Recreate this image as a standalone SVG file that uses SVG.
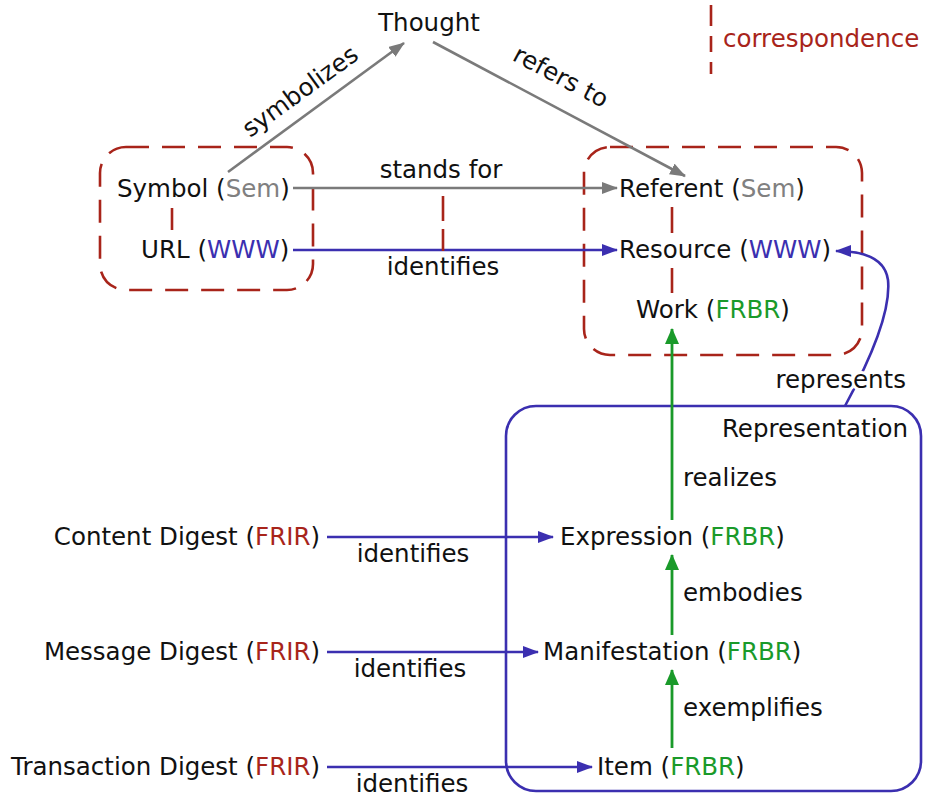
<svg xmlns="http://www.w3.org/2000/svg" width="926" height="797" viewBox="0 0 926 797">
<style>
text{font-family:"DejaVu Sans","Liberation Sans",sans-serif;font-size:24.5px;fill:#111}
.sem{fill:#808080}.www{fill:#3b2fb0}.frbr{fill:#1a9a2a}.frir{fill:#a8241a}
.corr{fill:#a8241a}
.dash{fill:none;stroke:#a8241a;stroke-width:2.6;stroke-dasharray:23 13}
.cd{stroke:#a8241a;stroke-width:2.6;fill:none}
.g{stroke:#7a7a7a;stroke-width:2.6;fill:none}
.b{stroke:#3b2fb0;stroke-width:2.6;fill:none}
.gr{stroke:#1a9a2a;stroke-width:2.8;fill:none}
.halo{stroke:#fff;stroke-width:6;paint-order:stroke}
</style>
<defs>
<marker id="ag" markerUnits="userSpaceOnUse" markerWidth="16" markerHeight="12" refX="15" refY="6" orient="auto"><path d="M0,0 L16,6 L0,12 Z" fill="#7a7a7a"/></marker>
<marker id="ab" markerUnits="userSpaceOnUse" markerWidth="16" markerHeight="12" refX="15" refY="6" orient="auto"><path d="M0,0 L16,6 L0,12 Z" fill="#3b2fb0"/></marker>
<marker id="agr" markerUnits="userSpaceOnUse" markerWidth="16" markerHeight="14" refX="15" refY="7" orient="auto"><path d="M0,0 L16,7 L0,14 Z" fill="#1a9a2a"/></marker>
</defs>

<g id="groups">
<rect class="dash" x="100" y="147" width="213" height="143" rx="26"/>
<rect class="dash" x="584" y="147" width="278" height="208" rx="26"/>
<rect class="b" x="506" y="406" width="415" height="385" rx="30"/>
</g>

<g id="connectors">
<path class="g" d="M228,172 L404,43" marker-end="url(#ag)"/>
<path class="g" d="M433,42 L685,176" marker-end="url(#ag)"/>
<path class="g" d="M293,188 L617,188" marker-end="url(#ag)"/>
<path class="b" d="M293,250 L617,250" marker-end="url(#ab)"/>
<path class="b" d="M845,406 Q892,320 888,280 Q884,251 836,251" marker-end="url(#ab)"/>
<path class="gr" d="M672,520 L672,329" marker-end="url(#agr)"/>
<path class="gr" d="M672,635 L672,555" marker-end="url(#agr)"/>
<path class="gr" d="M672,748 L672,670" marker-end="url(#agr)"/>
<path class="b" d="M327,537 L553,537" marker-end="url(#ab)"/>
<path class="b" d="M327,652 L538,652" marker-end="url(#ab)"/>
<path class="b" d="M327,767 L592,767" marker-end="url(#ab)"/>
<path class="cd" d="M172,208 L172,230"/>
<path class="cd" d="M443,196 L443,221 M443,229 L443,251"/>
<path class="cd" d="M672,207 L672,233 M672,268 L672,293"/>
<path class="cd" d="M711,5 L711,26 M711,36 L711,52 M711,62 L711,74"/>
<text x="305" y="98" text-anchor="middle" transform="rotate(-36 305 98)">symbolizes</text>
<text x="557" y="84" text-anchor="middle" transform="rotate(28 557 84)">refers to</text>
<text x="441" y="178" text-anchor="middle">stands for</text>
<text x="443" y="275" text-anchor="middle">identifies</text>
<text class="halo" x="906" y="388" text-anchor="end">represents</text>
<text x="683" y="486">realizes</text>
<text x="683" y="601">embodies</text>
<text x="683" y="716">exemplifies</text>
<text x="413" y="562" text-anchor="middle">identifies</text>
<text x="410" y="677" text-anchor="middle">identifies</text>
<text x="412" y="792" text-anchor="middle">identifies</text>
</g>

<g id="legend"><text class="corr" x="723" y="47">correspondence</text></g>
<g id="thought"><text x="429" y="31" text-anchor="middle">Thought</text></g>
<g id="symbol"><text x="117" y="197">Symbol (<tspan class="sem">Sem</tspan>)</text></g>
<g id="url"><text x="141" y="258">URL (<tspan class="www">WWW</tspan>)</text></g>
<g id="referent"><text x="619" y="197">Referent (<tspan class="sem">Sem</tspan>)</text></g>
<g id="resource"><text x="619" y="258">Resource (<tspan class="www">WWW</tspan>)</text></g>
<g id="work"><text x="636" y="318">Work (<tspan class="frbr">FRBR</tspan>)</text></g>
<g id="representation"><text x="908" y="437" text-anchor="end">Representation</text></g>
<g id="expression"><text x="560" y="545">Expression (<tspan class="frbr">FRBR</tspan>)</text></g>
<g id="manifestation"><text x="543" y="660">Manifestation (<tspan class="frbr">FRBR</tspan>)</text></g>
<g id="item"><text x="597" y="775">Item (<tspan class="frbr">FRBR</tspan>)</text></g>
<g id="content-digest"><text x="320" y="545" text-anchor="end">Content Digest (<tspan class="frir">FRIR</tspan>)</text></g>
<g id="message-digest"><text x="320" y="660" text-anchor="end">Message Digest (<tspan class="frir">FRIR</tspan>)</text></g>
<g id="transaction-digest"><text x="320" y="775" text-anchor="end">Transaction Digest (<tspan class="frir">FRIR</tspan>)</text></g>
</svg>
